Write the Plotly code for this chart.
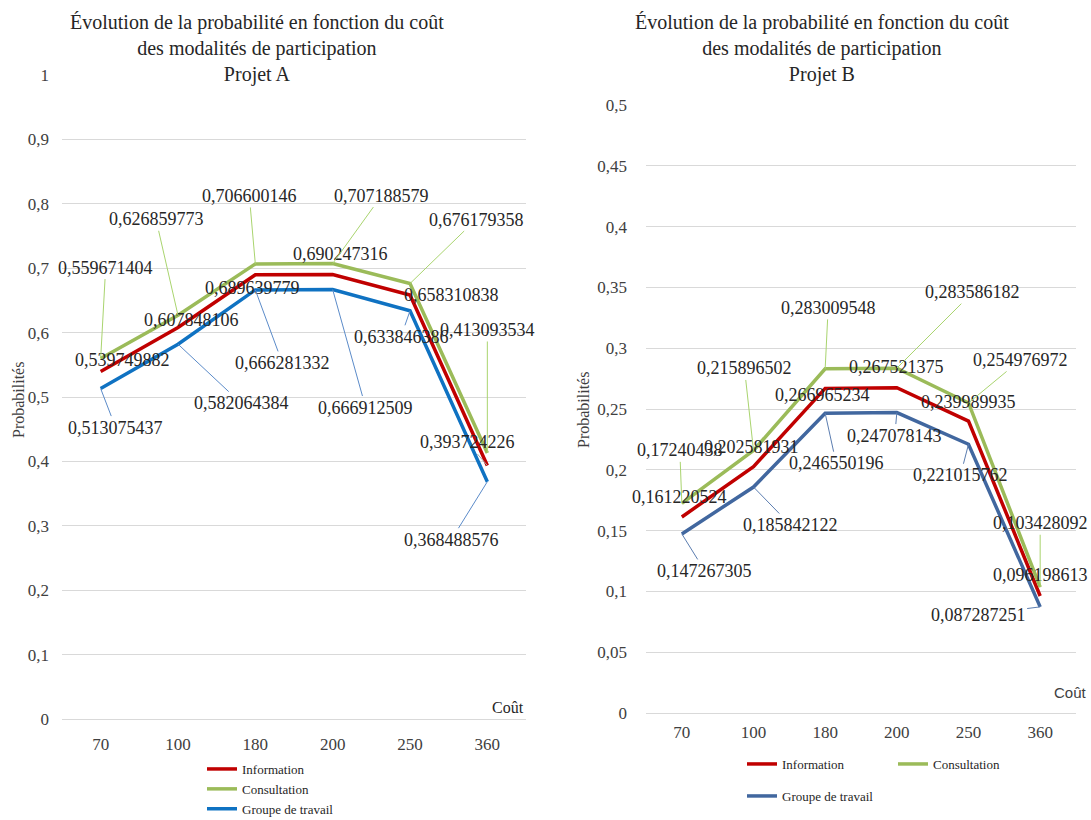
import plotly.graph_objects as go

# Cost levels (x categories)
couts = ["70", "100", "180", "200", "250", "360"]

# Projet A probabilities
a_information = [0.539749882, 0.607848106, 0.689639779, 0.690247316, 0.658310838, 0.393724226]
a_consultation = [0.559671404, 0.626859773, 0.706600146, 0.707188579, 0.676179358, 0.413093534]
a_groupe = [0.513075437, 0.582064384, 0.666281332, 0.666912509, 0.633846386, 0.368488576]

# Projet B probabilities
b_information = [0.161220524, 0.202581931, 0.266965234, 0.267521375, 0.239989935, 0.096198613]
b_consultation = [0.17240438, 0.215896502, 0.283009548, 0.283586182, 0.254976972, 0.103428092]
b_groupe = [0.147267305, 0.185842122, 0.246550196, 0.247078143, 0.221015762, 0.087287251]

series_names = ["Information", "Consultation", "Groupe de travail"]

# ---- styling ----
SERIF = "Liberation Serif"
RED = "#C00000"
GREEN = "#9BBB59"
BLUE_A = "#0F72C2"
BLUE_B = "#41679F"
GRID = "#D9D9D9"
TXT = "#262626"
W, H = 1091, 820

# data-label offsets in pixels (dx, dy) relative to each point, and leader colours
off_a = {
    "Information": [(22, -11), (13, -8), (-3, 13), (8, -20), (41, 0), (-20, -23)],
    "Consultation": [(5, -91), (-22, -96), (-6, -68), (49, -68), (66, -64), (0, -123)],
    "Groupe de travail": [(15, 39), (63, 59), (27, 73), (33, 118), (-9, 26), (-36, 58)],
}
off_b = {
    "Information": [(-2, -20), (-2, -20), (-3, 7), (0, -21), (0, -19), (0, -21)],
    "Consultation": [(-2, -53), (-9, -82), (3, -61), (76, -76), (52, -43), (0, -64)],
    "Groupe de travail": [(23, 37), (37, 38), (11, 50), (-2, 23), (-8, 31), (-62, 8)],
}
NONE = "rgba(0,0,0,0)"
lead_a = {
    "Information": [NONE, NONE, NONE, NONE, NONE, "#A6A6A6"],
    "Consultation": ["#A9D46E"] * 6,
    "Groupe de travail": ["#5B8BC9"] * 6,
}
lead_b = {
    "Information": [NONE] * 6,
    "Consultation": ["#A9D46E"] * 6,
    "Groupe de travail": ["#5B7DB0"] * 6,
}

fig = go.Figure()

data_a = dict(zip(series_names, [a_information, a_consultation, a_groupe]))
data_b = dict(zip(series_names, [b_information, b_consultation, b_groupe]))
colors_a = dict(zip(series_names, [RED, GREEN, BLUE_A]))
colors_b = dict(zip(series_names, [RED, GREEN, BLUE_B]))

for name in series_names:
    fig.add_trace(go.Scatter(
        x=couts, y=data_a[name], mode="lines", name=name,
        line=dict(color=colors_a[name], width=3.5),
        xaxis="x", yaxis="y", legend="legend",
    ))
for name in series_names:
    fig.add_trace(go.Scatter(
        x=couts, y=data_b[name], mode="lines", name=name,
        line=dict(color=colors_b[name], width=3.5),
        xaxis="x2", yaxis="y2",
        legend="legend3" if name == "Groupe de travail" else "legend2",
    ))


def fmt(v):
    return str(v).replace(".", ",")


def px(x, y):
    """Pixel position (from top-left) to paper coordinates."""
    return x / W, 1 - y / H


annotations = []
for data, offs, leads, xr, yr in [(data_a, off_a, lead_a, "x", "y"),
                                   (data_b, off_b, lead_b, "x2", "y2")]:
    for name in series_names:
        for i, v in enumerate(data[name]):
            dx, dy = offs[name][i]
            # on a category axis an annotation x is the category index
            annotations.append(dict(
                x=i, y=v, xref=xr, yref=yr, text=fmt(v),
                showarrow=True, arrowhead=0, arrowwidth=1,
                arrowcolor=leads[name][i], ax=dx, ay=dy,
                standoff=0, startstandoff=0,
                font=dict(family=SERIF, size=18, color=TXT),
            ))

title_text = ("Évolution de la probabilité en fonction du coût<br>"
              "des modalités de participation<br>Projet {}")


def note(text, x, y, **kw):
    px_x, px_y = px(x, y)
    d = dict(text=text, x=px_x, y=px_y, xref="paper", yref="paper",
             showarrow=False, xanchor="center", yanchor="middle")
    d.update(kw)
    return d


annotations += [
    note(title_text.format("A"), 257, 9, yanchor="top",
         font=dict(family=SERIF, size=20, color=TXT)),
    note(title_text.format("B"), 822, 9, yanchor="top",
         font=dict(family=SERIF, size=20, color=TXT)),
    note("Probabilités", 18, 400, textangle=-90,
         font=dict(family=SERIF, size=16, color="#404040")),
    note("Probabilités", 583, 410, textangle=-90,
         font=dict(family=SERIF, size=16, color="#404040")),
    note("Coût", 508, 707, font=dict(family=SERIF, size=16, color=TXT)),
    note("Coût", 1070, 692, font=dict(family="Liberation Sans", size=15, color="#404040")),
]

xaxis_common = dict(type="category", categoryorder="array", categoryarray=couts,
                    range=[-0.5, 5.5], autorange=False,
                    showgrid=False, showline=False, zeroline=False, ticks="",
                    tickfont=dict(family=SERIF, size=17, color="#404040"))
yaxis_common = dict(showgrid=True, gridcolor=GRID, gridwidth=1, zeroline=True,
                    zerolinecolor=GRID, zerolinewidth=1, showline=False, ticks="",
                    tickfont=dict(family=SERIF, size=17, color="#404040"))

legend_font = dict(family=SERIF, size=13, color=TXT)

fig.update_layout(
    width=W, height=H,
    margin=dict(l=0, r=0, t=0, b=0, autoexpand=False),
    paper_bgcolor="white", plot_bgcolor="white",
    separators=", ",
    font=dict(family=SERIF, color=TXT),
    xaxis=dict(xaxis_common, domain=[62 / W, 526 / W], anchor="y", ticklabelstandoff=13),
    yaxis=dict(yaxis_common, domain=[1 - 719 / H, 1 - 75 / H], anchor="x",
               range=[0, 1], dtick=0.1, tick0=0, ticklabelstandoff=12),
    xaxis2=dict(xaxis_common, domain=[646 / W, 1076 / W], anchor="y2", ticklabelstandoff=7),
    yaxis2=dict(yaxis_common, domain=[1 - 713 / H, 1 - 105 / H], anchor="x2",
                range=[0, 0.5], dtick=0.05, tick0=0, ticklabelstandoff=18),
    legend=dict(x=202 / W, y=1 - 754 / H, xanchor="left", yanchor="top",
                orientation="v", bgcolor="rgba(0,0,0,0)", font=legend_font),
    legend2=dict(x=742 / W, y=1 - 749 / H, xanchor="left", yanchor="top",
                 orientation="h", bgcolor="rgba(0,0,0,0)", entrywidth=106,
                 font=legend_font),
    legend3=dict(x=742 / W, y=1 - 781 / H, xanchor="left", yanchor="top",
                 orientation="h", bgcolor="rgba(0,0,0,0)", font=legend_font),
    annotations=annotations,
    showlegend=True,
)

fig.write_html("out.html")
